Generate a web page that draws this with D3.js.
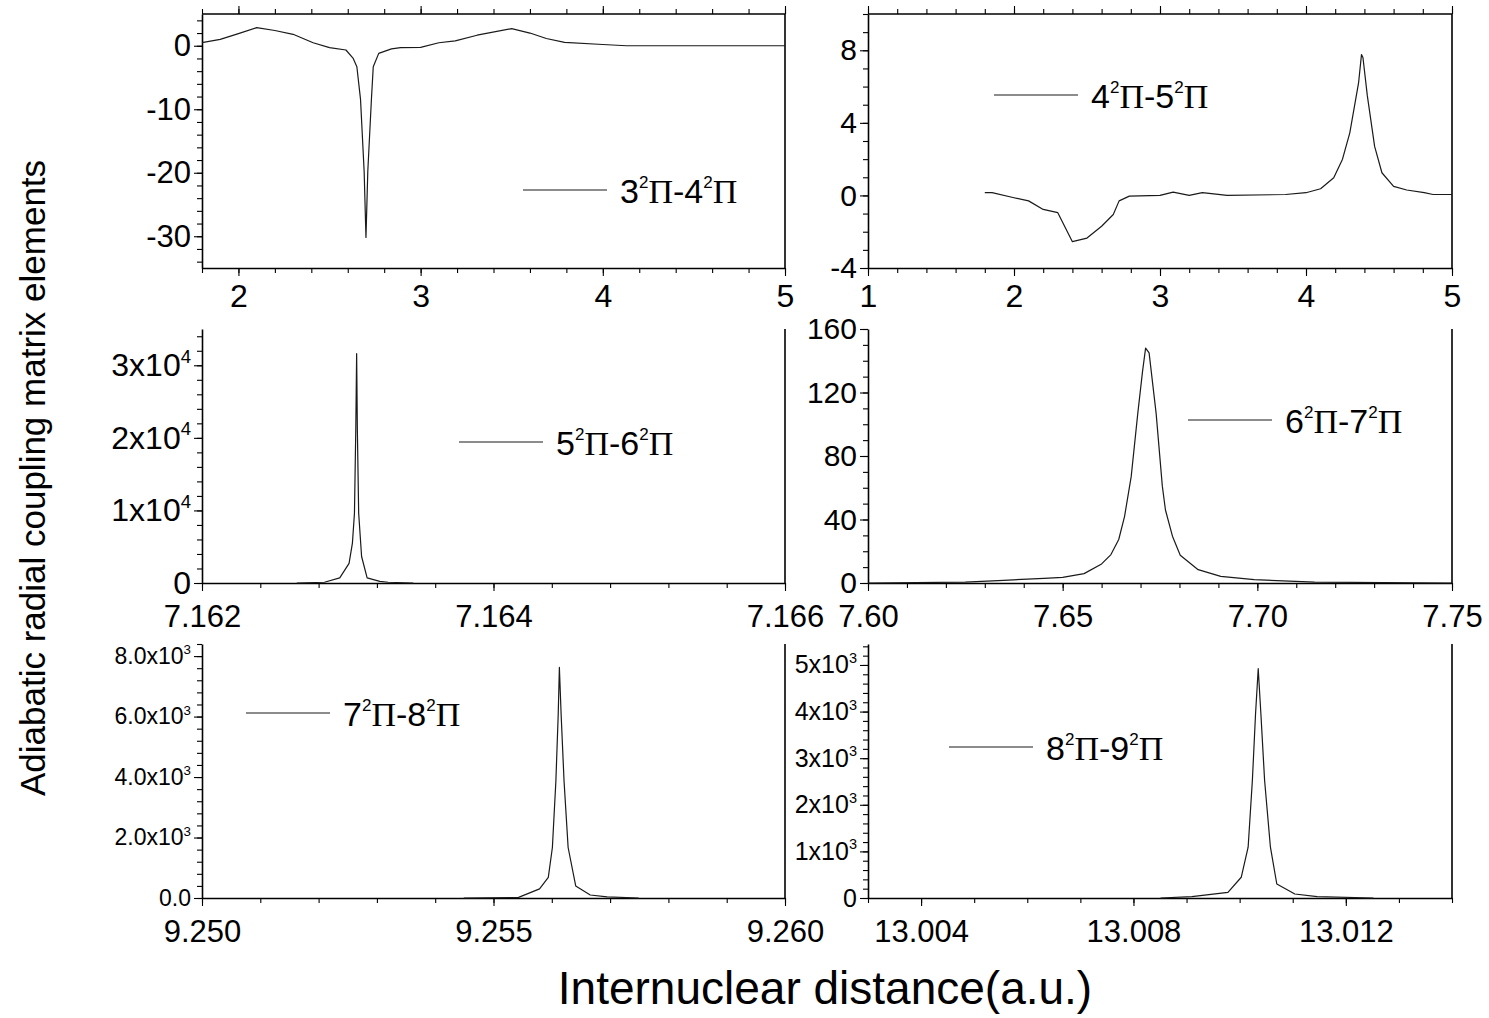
<!DOCTYPE html>
<html>
<head>
<meta charset="utf-8">
<script src="https://cdn.jsdelivr.net/npm/d3@7"></script>
<style>
  body { margin: 0; background: #fff; }
  text { font-family: "Liberation Sans", Arial, sans-serif; fill: #000; }
</style>
</head>
<body>
<svg width="1489" height="1018"></svg>
<script>
// Data (internuclear distance in a.u., coupling element)

// 3²Π-4²Π
const r34 = [1.8, 1.9, 2.0, 2.1, 2.2, 2.3, 2.41, 2.5, 2.59, 2.63, 2.65, 2.67, 2.69, 2.70, 2.71, 2.73, 2.74, 2.77, 2.84, 2.89, 3.0, 3.1, 3.19, 3.31, 3.5, 3.6, 3.69, 3.79, 4.0, 4.13, 5.0];
const c34 = [0.5, 1.0, 1.9, 2.85, 2.4, 1.8, 0.47, -0.3, -0.67, -2.0, -3.3, -8.4, -19.8, -30.2, -19.8, -8.4, -3.3, -1.2, -0.5, -0.3, -0.26, 0.47, 0.78, 1.66, 2.7, 2.0, 1.14, 0.52, 0.2, 0, 0];

// 4²Π-5²Π
const r45 = [1.8, 1.85, 2.0, 2.1, 2.2, 2.3, 2.4, 2.5, 2.6, 2.68, 2.72, 2.79, 3.0, 3.09, 3.2, 3.29, 3.46, 3.86, 4.0, 4.1, 4.19, 4.25, 4.3, 4.36, 4.38, 4.39, 4.42, 4.47, 4.52, 4.6, 4.69, 4.81, 4.87, 5.0];
const c45 = [0.15, 0.15, -0.13, -0.3, -0.77, -0.95, -2.55, -2.35, -1.7, -1.05, -0.3, -0.04, 0, 0.18, 0, 0.15, 0, 0.05, 0.15, 0.37, 0.97, 2.0, 3.45, 6.2, 7.76, 7.6, 5.5, 2.7, 1.25, 0.5, 0.3, 0.15, 0.05, 0.05];

// 5²Π-6²Π
const r56 = [7.16265, 7.16284, 7.162945, 7.163009, 7.163032, 7.163046, 7.163055, 7.163061, 7.163066, 7.163075, 7.163095, 7.163133, 7.16322, 7.163277, 7.16345];
const c56 = [0, 100, 700, 2700, 5500, 9600, 21000, 31600, 21000, 9600, 3650, 700, 230, 100, 0];

// 6²Π-7²Π
const r67 = [7.600, 7.625, 7.6348, 7.6452, 7.650, 7.6555, 7.660, 7.6624, 7.6644, 7.6659, 7.6676, 7.6693, 7.6705, 7.6713, 7.6722, 7.674, 7.6756, 7.6764, 7.6782, 7.6802, 7.6848, 7.6906, 7.6992, 7.705, 7.7147, 7.750];
const c67 = [0, 0.6, 1.7, 2.9, 3.6, 5.9, 12, 17.9, 27.4, 42, 67, 107, 133, 148, 145, 107, 61, 46, 29.5, 17.5, 8.4, 4.2, 2.1, 1.5, 0.6, 0];

// 7²Π-8²Π
const r78 = [9.25449, 9.25543, 9.25579, 9.25594, 9.25601, 9.25607, 9.25611, 9.25613, 9.25616, 9.25621, 9.25628, 9.25641, 9.25666, 9.25695, 9.25749];
const c78 = [0, 20, 300, 680, 1670, 3870, 6070, 7626, 6070, 3870, 1670, 400, 100, 40, 0];

// 8²Π-9²Π
const r89 = [13.00851, 13.0091, 13.00978, 13.01003, 13.01016, 13.01024, 13.0103, 13.01035, 13.0104, 13.01047, 13.01058, 13.0107, 13.01104, 13.01146, 13.01252];
const c89 = [0, 29, 120, 445, 1090, 2525, 3960, 4920, 3960, 2525, 1090, 300, 86, 29, 0];

// Tick values and labels
const xTicks34 = [2, 3, 4, 5], xLabels34 = ["2", "3", "4", "5"];
const yTicks34 = [0, -10, -20, -30], yLabels34 = ["0", "-10", "-20", "-30"];
const xTicks45 = [1, 2, 3, 4, 5], xLabels45 = ["1", "2", "3", "4", "5"];
const yTicks45 = [8, 4, 0, -4], yLabels45 = ["8", "4", "0", "-4"];
const xTicks56 = [7.162, 7.164, 7.166], xLabels56 = ["7.162", "7.164", "7.166"];
const yTicks56 = [0, 1e4, 2e4, 3e4], yLabels56 = ["0", "1x10^4", "2x10^4", "3x10^4"];
const xTicks67 = [7.60, 7.65, 7.70, 7.75], xLabels67 = ["7.60", "7.65", "7.70", "7.75"];
const yTicks67 = [0, 40, 80, 120, 160], yLabels67 = ["0", "40", "80", "120", "160"];
const xTicks78 = [9.250, 9.255, 9.260], xLabels78 = ["9.250", "9.255", "9.260"];
const yTicks78 = [0, 2000, 4000, 6000, 8000], yLabels78 = ["0.0", "2.0x10^3", "4.0x10^3", "6.0x10^3", "8.0x10^3"];
const xTicks89 = [13.004, 13.008, 13.012], xLabels89 = ["13.004", "13.008", "13.012"];
const yTicks89 = [0, 1000, 2000, 3000, 4000, 5000], yLabels89 = ["0", "1x10^3", "2x10^3", "3x10^3", "4x10^3", "5x10^3"];

// Legend states (lower, upper)
const states = [["3", "4"], ["4", "5"], ["5", "6"], ["6", "7"], ["7", "8"], ["8", "9"]];

// Layout
const svg = d3.select("svg");
const COL_X = [202, 868], COL_W = [583, 584];
const ROW_Y = [14, 329, 644], ROW_H = 254;

const panels = [
  {col: 0, row: 0, xs: r34, ys: c34, xDom: [1.8, 5], yDom: [-35, 5], xt: xTicks34, xl: xLabels34, yt: yTicks34, yl: yLabels34, xm: [1.8, 5, 0.2], ym: [-34, 4, 2], frame: true, leg: [321, 176], yfs: 31},
  {col: 1, row: 0, xs: r45, ys: c45, xDom: [1, 5], yDom: [-4, 10], xt: xTicks45, xl: xLabels45, yt: yTicks45, yl: yLabels45, xm: [1, 5, 0.2], ym: [-4, 10, 1], frame: true, leg: [126, 81], yfs: 30},
  {col: 0, row: 1, xs: r56, ys: c56, xDom: [7.162, 7.166], yDom: [0, 35000], xt: xTicks56, xl: xLabels56, yt: yTicks56, yl: yLabels56, xm: [7.162, 7.166, 0.0004], ym: [0, 34000, 2000], frame: false, leg: [257, 113], yfs: 32},
  {col: 1, row: 1, xs: r67, ys: c67, xDom: [7.60, 7.75], yDom: [0, 160], xt: xTicks67, xl: xLabels67, yt: yTicks67, yl: yLabels67, xm: [7.60, 7.75, 0.01], ym: [0, 160, 10], frame: false, leg: [320, 91], yfs: 30},
  {col: 0, row: 2, xs: r78, ys: c78, xDom: [9.250, 9.260], yDom: [0, 8400], xt: xTicks78, xl: xLabels78, yt: yTicks78, yl: yLabels78, xm: [9.250, 9.260, 0.001], ym: [0, 8400, 400], frame: false, leg: [44, 69], yfs: 23},
  {col: 1, row: 2, xs: r89, ys: c89, xDom: [13.003, 13.014], yDom: [0, 5450], xt: xTicks89, xl: xLabels89, yt: yTicks89, yl: yLabels89, xm: [13.003, 13.014, 0.001], ym: [0, 5400, 200], frame: false, leg: [81, 103], yfs: 25}
];

function steps(lo, hi, step) {
  const n = Math.round((hi - lo) / step);
  return d3.range(n + 1).map(i => +(lo + i * step).toFixed(8));
}

function superscript(sel, size) {
  sel.each(function () {
    const t = d3.select(this);
    const s = t.text();
    if (s.indexOf("^") < 0) return;
    const parts = s.split("^");
    t.text(null);
    t.append("tspan").text(parts[0]);
    t.append("tspan").text(parts[1])
      .style("font-size", (size * 0.58) + "px")
      .attr("dy", -size * 0.42);
  });
}

panels.forEach((p, k) => {
  const w = COL_W[p.col], h = ROW_H;
  const g = svg.append("g").attr("transform", `translate(${COL_X[p.col]},${ROW_Y[p.row]})`);
  const x = d3.scaleLinear().domain(p.xDom).range([0, w]);
  const y = d3.scaleLinear().domain(p.yDom).range([h, 0]);
  const xMinor = steps(p.xm[0], p.xm[1], p.xm[2]);
  const yMinor = steps(p.ym[0], p.ym[1], p.ym[2]);

  // minor ticks
  g.append("g").attr("class", "minor").attr("transform", `translate(0,${h})`)
    .call(d3.axisBottom(x).tickValues(xMinor).tickSize(5).tickFormat(""));
  g.append("g").attr("class", "minor")
    .call(d3.axisLeft(y).tickValues(yMinor).tickSize(5).tickFormat(""));
  if (p.frame) {
    g.append("g").attr("class", "minor")
      .call(d3.axisTop(x).tickValues(xMinor).tickSize(5).tickFormat(""));
    g.append("g").attr("class", "minor")
      .call(d3.axisTop(x).tickValues(p.xt).tickSize(8).tickFormat(""));
  }
  g.selectAll(".minor .domain").remove();

  // major ticks with labels
  const xa = g.append("g").attr("transform", `translate(0,${h})`)
    .call(d3.axisBottom(x).tickValues(p.xt).tickSize(8).tickSizeOuter(0).tickPadding(p.row === 0 ? 8 : 14)
      .tickFormat((d, i) => p.xl[i]));
  xa.selectAll("text").style("font-size", p.row === 0 ? "32px" : "31px");

  const ya = g.append("g")
    .call(d3.axisLeft(y).tickValues(p.yt).tickSize(8).tickSizeOuter(0).tickPadding(3)
      .tickFormat((d, i) => p.yl[i]));
  ya.selectAll("text").style("font-size", p.yfs + "px").call(superscript, p.yfs);

  g.selectAll(".domain").attr("stroke", "#000").attr("stroke-width", 1.6);
  g.selectAll(".tick line").attr("stroke", "#000").attr("stroke-width", 1.1);

  // right edge, top edge for first row
  g.append("line").attr("x1", w).attr("x2", w).attr("y1", 0).attr("y2", h)
    .attr("stroke", "#000").attr("stroke-width", 1.6);
  if (p.frame) {
    g.append("line").attr("x1", 0).attr("x2", w).attr("y1", 0).attr("y2", 0)
      .attr("stroke", "#000").attr("stroke-width", 1.6);
  }

  // curve
  const line = d3.line().x(d => x(d[0])).y(d => y(d[1]));
  g.append("path").datum(d3.zip(p.xs, p.ys))
    .attr("d", line).attr("fill", "none")
    .attr("stroke", "#1a1a1a").attr("stroke-width", 1.2)
    .attr("stroke-linejoin", "round");

  // legend
  const lx = p.leg[0], ly = p.leg[1];
  g.append("line").attr("x1", lx).attr("x2", lx + 84).attr("y1", ly).attr("y2", ly)
    .attr("stroke", "#1a1a1a").attr("stroke-width", 1.2);
  const fs = 34;
  const t = g.append("text").attr("x", lx + 97).attr("y", ly + 13).style("font-size", fs + "px");
  const st = states[k];
  t.append("tspan").text(st[0]);
  t.append("tspan").text("2").style("font-size", (fs * 0.5) + "px").attr("dy", -fs * 0.45);
  t.append("tspan").text("Π").style("font-family", "'Liberation Serif', 'Times New Roman', serif").attr("dy", fs * 0.45);
  t.append("tspan").text("-" + st[1]);
  t.append("tspan").text("2").style("font-size", (fs * 0.5) + "px").attr("dy", -fs * 0.45);
  t.append("tspan").text("Π").style("font-family", "'Liberation Serif', 'Times New Roman', serif").attr("dy", fs * 0.45);
});

// axis titles
svg.append("text")
  .attr("transform", "translate(45,478) rotate(-90)")
  .attr("text-anchor", "middle")
  .style("font-size", "35px")
  .text("Adiabatic radial coupling matrix elements");

svg.append("text")
  .attr("x", 825).attr("y", 1004)
  .attr("text-anchor", "middle")
  .style("font-size", "46px")
  .text("Internuclear distance(a.u.)");
</script>
</body>
</html>
